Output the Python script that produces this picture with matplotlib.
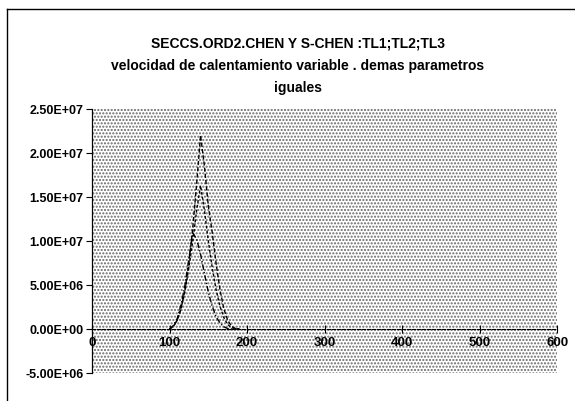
import matplotlib
matplotlib.use("Agg")
import matplotlib.pyplot as plt
from matplotlib.ticker import FuncFormatter, MultipleLocator
from matplotlib.patches import Rectangle
from matplotlib.lines import Line2D

plt.rcParams['font.family'] = ['Liberation Sans Narrow', 'Liberation Sans', 'DejaVu Sans']
plt.rcParams['hatch.linewidth'] = 1.0

# temperature (x) and the three TL glow curves
temp = [100, 105, 110, 115, 120, 125, 130, 135, 140, 145,
        150, 155, 160, 165, 170, 175, 180, 185, 190]
tl1 = [0.0, 0.3, 1.0, 2.4, 4.5, 7.5, 11.5, 16.5, 22.0, 18.5,
       14.0, 11.0, 7.5, 4.5, 2.3, 1.0, 0.3, 0.05, 0.0]
tl2 = [0.0, 0.3, 1.0, 2.3, 4.3, 7.0, 10.0, 13.5, 16.3, 13.5,
       10.0, 7.0, 4.5, 2.6, 1.3, 0.5, 0.15, 0.0, 0.0]
tl3 = [0.0, 0.4, 1.2, 2.8, 5.0, 8.0, 10.9, 10.2, 8.5, 6.3,
       4.2, 2.6, 1.4, 0.7, 0.25, 0.05, 0.0, 0.0, 0.0]
scale = 1e6

title_lines = ["SECCS.ORD2.CHEN Y S-CHEN :TL1;TL2;TL3",
               "velocidad de calentamiento variable . demas parametros",
               "iguales"]

fig = plt.figure(figsize=(5.75, 4.02), dpi=100)
fig.patch.set_facecolor("white")

# outer chart frame (only top and left edges survive in the scan)
fig.add_artist(Line2D([7 / 575, 1.0], [1 - 10 / 402, 1 - 10 / 402], color="black", lw=1.0))
fig.add_artist(Line2D([7 / 575, 7 / 575], [0.0, 1 - 10 / 402], color="black", lw=1.0))

for txt, yy in zip(title_lines, [0.893, 0.836, 0.781]):
    fig.text(0.518, yy, txt, ha="center", va="center", fontsize=10, fontweight="bold")

ax = fig.add_axes([0.160, 0.0697, 0.809, 0.657])
ax.patch.set_facecolor("white")
ax.add_patch(Rectangle((0, 0), 1, 1, transform=ax.transAxes, facecolor="white",
                       edgecolor="#666666", hatch=".....", lw=0, zorder=0))

ax.plot(temp, [v * scale for v in tl1], color="black", lw=1.0, ls=(0, (3, 1.5)), zorder=3)
ax.plot(temp, [v * scale for v in tl2], color="black", lw=1.0, ls=(0, (2, 1.5)), zorder=3)
ax.plot(temp, [v * scale for v in tl3], color="black", lw=1.0, ls=(0, (4, 1.5, 1, 1.5)), zorder=3)

ax.set_xlim(0, 600)
ax.set_ylim(-5e6, 2.5e7)
ax.xaxis.set_major_locator(MultipleLocator(100))
ax.yaxis.set_major_locator(MultipleLocator(5e6))
ax.yaxis.set_major_formatter(FuncFormatter(lambda v, p: f"{v:.2E}"))

for s in ["top", "right"]:
    ax.spines[s].set_visible(False)
ax.spines["bottom"].set_position(("data", 0))
ax.spines["bottom"].set_linestyle((0, (3, 1.5)))
ax.spines["bottom"].set_linewidth(0.8)
ax.spines["left"].set_linewidth(0.9)

ax.tick_params(axis="x", direction="inout", length=6, width=0.8, pad=2, labelsize=9.5)
ax.tick_params(axis="y", direction="out", length=4, width=0.8, pad=2, labelsize=9)
for lab in ax.get_xticklabels() + ax.get_yticklabels():
    lab.set_fontweight("bold")

fig.savefig("out.png", dpi=100)
